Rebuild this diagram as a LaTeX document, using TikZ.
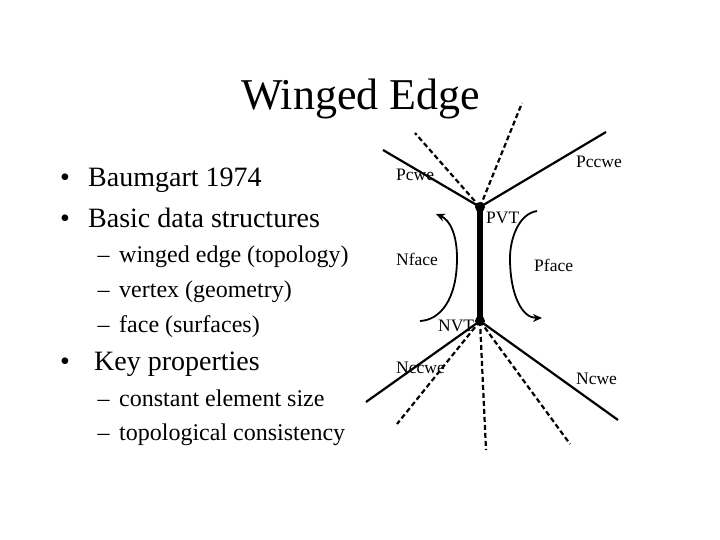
\documentclass[tikz,border=0pt]{standalone}
\usepackage{fontspec}
\setmainfont{Liberation Serif}
\usetikzlibrary{arrows.meta}
\tikzset{
  title/.style={anchor=base west,inner sep=0pt,font=\fontsize{44}{44}\selectfont},
  lvlone/.style={anchor=base west,inner sep=0pt,font=\fontsize{28}{28}\selectfont},
  lvltwo/.style={anchor=base west,inner sep=0pt,font=\fontsize{24}{24}\selectfont},
  lab/.style={anchor=base west,inner sep=0pt,font=\fontsize{17.5}{17.5}\selectfont},
  solidedge/.style={line width=2.2pt,black},
  dashedge/.style={line width=2.2pt,black,dash pattern=on 5pt off 3pt},
  mainedge/.style={line width=6.5pt,black},
  vertexdot/.style={circle,fill=black,inner sep=0pt,minimum size=10pt},
  facearrow/.style={line width=1.8pt,black},
}
\begin{document}
\begin{tikzpicture}[x=1pt,y=-1pt]
\useasboundingbox (0,0) rectangle (720,540);
\node[title] (t) at (241,110) {Winged Edge};
\node[lvlone] (b1) at (60,187) {•};
\node[lvlone] (a1) at (88,187) {Baumgart 1974};
\node[lvlone] (b2) at (60,227) {•};
\node[lvlone] (a2) at (88,227) {Basic data structures};
\node[lvltwo] (d1) at (97.5,262.5) {–};
\node[lvltwo] (s1) at (119,262.5) {winged edge (topology)};
\node[lvltwo] (d2) at (97.5,297.5) {–};
\node[lvltwo] (s2) at (119,297.5) {vertex (geometry)};
\node[lvltwo] (d3) at (97.5,332) {–};
\node[lvltwo] (s3) at (119,332) {face (surfaces)};
\node[lvlone] (b3) at (60,370.5) {•};
\node[lvlone] (a3) at (94,370.5) {Key properties};
\node[lvltwo] (d4) at (97.5,406) {–};
\node[lvltwo] (s4) at (119,406) {constant element size};
\node[lvltwo] (d5) at (97.5,440.5) {–};
\node[lvltwo] (s5) at (119,440.5) {topological consistency};
\coordinate (pvt) at (480,207);
\coordinate (nvt) at (480,321);
\coordinate (pcw) at (383,150);
\coordinate (pd1) at (415,133);
\coordinate (pd2) at (522,103);
\coordinate (pccw) at (606,132);
\coordinate (nccw) at (366,402);
\coordinate (nd1) at (397,424);
\coordinate (nd2) at (486,450);
\coordinate (nd3) at (570,444);
\coordinate (ncw) at (618,420);
\draw[mainedge] (pvt) -- (nvt);
\draw[solidedge] (pvt) -- (pcw);
\draw[solidedge] (pvt) -- (pccw);
\draw[solidedge] (nvt) -- (nccw);
\draw[solidedge] (nvt) -- (ncw);
\draw[dashedge] (pvt) -- (pd1);
\draw[dashedge] (pvt) -- (pd2);
\draw[dashedge] (nvt) -- (nd1);
\draw[dashedge] (nvt) -- (nd2);
\draw[dashedge] (nvt) -- (nd3);
\node[vertexdot] (pv) at (pvt) {};
\node[vertexdot] (nv) at (nvt) {};
\coordinate (la) at (436,214);
\coordinate (lb) at (420,321);
\coordinate (ra) at (537,211);
\coordinate (rb) at (542,318);
\draw[facearrow,-{Stealth[length=9pt,width=8pt]}] (lb) .. controls (440,320) and (457,300) .. (457,258) .. controls (457,235) and (450,220) .. (la);
\draw[facearrow,-{Stealth[length=9pt,width=8pt]}] (ra) .. controls (518,214) and (510,240) .. (510,258) .. controls (510,295) and (522,318) .. (rb);
\node[lab] (l1) at (396,181) {Pcwe};
\node[lab] (l2) at (576,168) {Pccwe};
\node[lab] (l3) at (486,223) {PVT};
\node[lab] (l4) at (396,265) {Nface};
\node[lab] (l5) at (534,271) {Pface};
\node[lab] (l6) at (438,331) {NVT};
\node[lab] (l7) at (396,373) {Nccwe};
\node[lab] (l8) at (576,384) {Ncwe};
\end{tikzpicture}
\end{document}
